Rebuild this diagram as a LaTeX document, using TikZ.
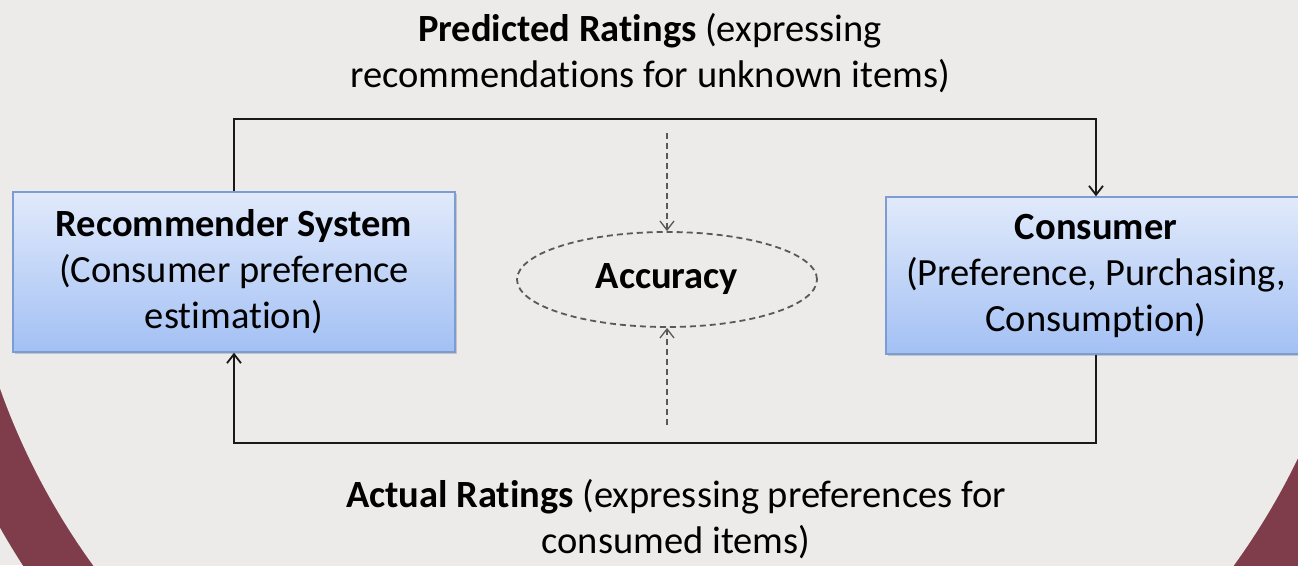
\documentclass[tikz,border=0pt]{standalone}
\usepackage{fontspec}
\setmainfont{Carlito}[Ligatures=NoCommon]
\usepackage{xcolor}
\usepackage{tikz}
\usetikzlibrary{arrows.meta,shapes.geometric,shadows}
\definecolor{bgray}{HTML}{EDEBE9}
\definecolor{maroon}{HTML}{7F3D4B}
\definecolor{boxtop}{HTML}{E1EAFB}
\definecolor{boxbot}{HTML}{A3C0F4}
\definecolor{boxline}{HTML}{7C9DD3}
\tikzset{x=1pt,y=1pt,
    every node/.style={font=\fontsize{38.5}{46}\selectfont,align=center},
    block/.style={draw=boxline,line width=1.4pt,top color=boxtop,bottom color=boxbot,
        drop shadow={shadow xshift=2pt,shadow yshift=-2pt,opacity=0.35}},
    flow/.style={draw=black!90,line width=2.7pt,-{Straight Barb[length=9pt,width=14pt,line width=1.8pt]}},
    measure/.style={draw=black!65,line width=1.8pt,dashed,dash pattern=on 6pt off 4pt,
        -{Straight Barb[length=9pt,width=14pt,line width=1.3pt]}}}

\begin{document}
\begin{tikzpicture}
\useasboundingbox (0,0) rectangle (1298,565);
\begin{scope}
    \clip (0,0) rectangle (1298,565);
    \fill[bgray] (0,0) rectangle (1298,565);
    \fill[maroon] (663.5,412.4) circle (762);
    \fill[bgray] (663.5,412.4) circle (704);
\end{scope}
\node[block,minimum width=442,minimum height=160] (rec) at (234,293)
    {\textbf{Recommender System}\\(Consumer preference\\estimation)};
\node[block,minimum width=420,minimum height=157] (cons) at (1096,289.5)
    {\textbf{Consumer}\\(Preference, Purchasing,\\Consumption)};
\node[ellipse,draw=black!65,line width=1.8pt,dashed,dash pattern=on 6pt off 4pt,
    minimum width=300,minimum height=95,inner sep=0pt] (acc) at (667,285.5) {\textbf{Accuracy}};
\node (pred) at (650,512) {\textbf{Predicted Ratings} (expressing\\recommendations for unknown items)};
\node (act) at (676,46) {\textbf{Actual Ratings} (expressing preferences for\\consumed items)};
\coordinate (topline) at (650,446);
\coordinate (botline) at (650,122);
\coordinate (acctop) at (667,432);
\coordinate (accbot) at (667,140);
\draw[flow] (rec.north) |- (topline) -| (cons.north);
\draw[flow] (cons.south) |- (botline) -| (rec.south);
\draw[measure] (acctop) -- (acc.north);
\draw[measure] (accbot) -- (acc.south);
\end{tikzpicture}
\end{document}
